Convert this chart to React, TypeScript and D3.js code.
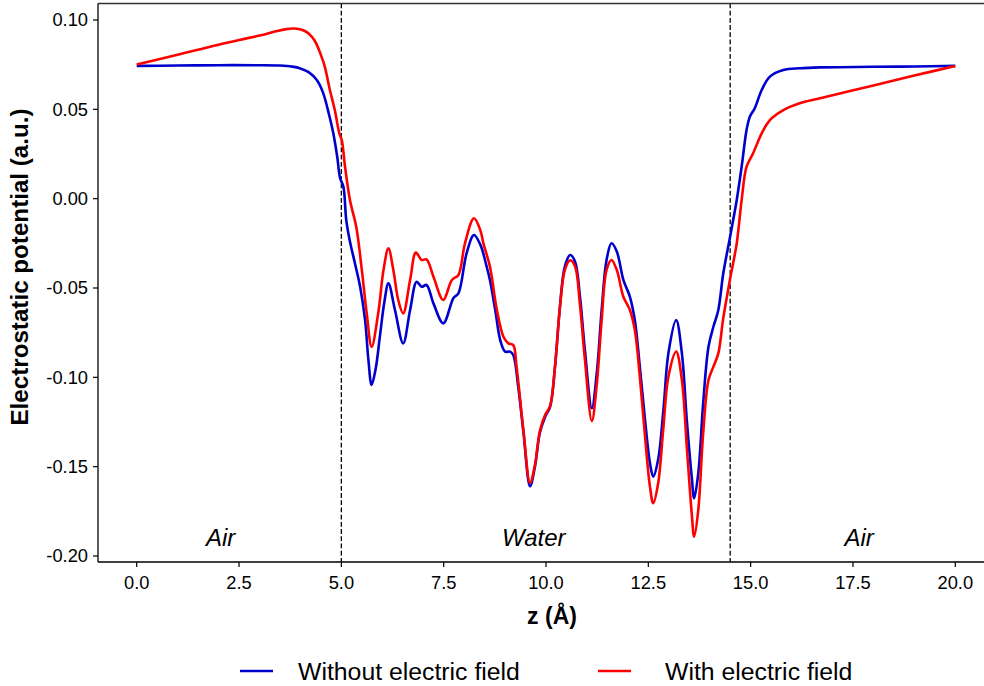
import * as d3 from 'd3';
import { useEffect, useRef } from 'react';

// z positions (Å) and potential (a.u.), without field
const zNoField = [0.0, 1.0, 2.0, 3.0, 3.5, 3.8, 4.0, 4.2, 4.4, 4.55, 4.7, 4.8, 4.9, 4.97, 5.05, 5.12, 5.21, 5.33, 5.46, 5.58, 5.66, 5.74, 5.84, 5.94, 6.05, 6.15, 6.31, 6.51, 6.68, 6.84, 6.96, 7.08, 7.25, 7.49, 7.74, 7.86, 8.06, 8.24, 8.4, 8.55, 8.63, 8.76, 8.88, 9.0, 9.12, 9.2, 9.32, 9.45, 9.61, 9.73, 9.85, 9.98, 10.1, 10.22, 10.34, 10.46, 10.59, 10.71, 10.83, 10.95, 11.12, 11.24, 11.36, 11.48, 11.6, 11.73, 11.89, 12.05, 12.17, 12.3, 12.42, 12.54, 12.62, 12.74, 12.87, 12.99, 13.18, 13.32, 13.44, 13.56, 13.62, 13.72, 13.84, 13.97, 14.09, 14.21, 14.33, 14.5, 14.66, 14.78, 14.9, 14.98, 15.1, 15.27, 15.47, 15.8, 16.2, 16.7, 18.0, 19.0, 20.0];
const vNoField = [0.0743, 0.0745, 0.0747, 0.0747, 0.0745, 0.0739, 0.0729, 0.0708, 0.0664, 0.0595, 0.047, 0.037, 0.0233, 0.0115, 0.0067, -0.012, -0.024, -0.036, -0.0494, -0.068, -0.09, -0.1043, -0.095, -0.0774, -0.058, -0.0474, -0.0623, -0.081, -0.0623, -0.0465, -0.0493, -0.0483, -0.0586, -0.0698, -0.0556, -0.053, -0.0306, -0.0203, -0.026, -0.038, -0.0455, -0.0623, -0.079, -0.0856, -0.0856, -0.0875, -0.105, -0.131, -0.161, -0.15, -0.131, -0.122, -0.1165, -0.094, -0.0605, -0.038, -0.0315, -0.0353, -0.0549, -0.0847, -0.1173, -0.0977, -0.0623, -0.0343, -0.025, -0.0296, -0.0455, -0.0549, -0.068, -0.0959, -0.1239, -0.148, -0.1556, -0.146, -0.118, -0.0866, -0.068, -0.0866, -0.1239, -0.1556, -0.1677, -0.1537, -0.1145, -0.0829, -0.0717, -0.0623, -0.042, -0.021, -0.0007, 0.0179, 0.0384, 0.0459, 0.0506, 0.0608, 0.0683, 0.072, 0.073, 0.0735, 0.0738, 0.074, 0.0743];

// with electric field
const zField = [0.0, 1.0, 2.0, 3.0, 3.4, 3.65, 3.85, 4.05, 4.2, 4.35, 4.5, 4.6, 4.72, 4.84, 4.95, 5.01, 5.09, 5.21, 5.37, 5.5, 5.62, 5.74, 5.9, 6.03, 6.15, 6.27, 6.39, 6.51, 6.68, 6.82, 6.96, 7.08, 7.25, 7.49, 7.7, 7.86, 8.02, 8.24, 8.4, 8.47, 8.63, 8.8, 8.96, 9.08, 9.2, 9.28, 9.45, 9.61, 9.73, 9.85, 9.98, 10.1, 10.22, 10.34, 10.46, 10.59, 10.71, 10.83, 10.95, 11.12, 11.24, 11.36, 11.48, 11.6, 11.73, 11.89, 12.05, 12.17, 12.3, 12.42, 12.54, 12.62, 12.74, 12.87, 12.99, 13.18, 13.32, 13.44, 13.56, 13.62, 13.72, 13.84, 13.97, 14.09, 14.21, 14.33, 14.5, 14.66, 14.78, 14.9, 15.06, 15.27, 15.47, 15.8, 16.2, 16.7, 18.0, 19.0, 20.0];
const vField = [0.0751, 0.0806, 0.0862, 0.0913, 0.0937, 0.0949, 0.0952, 0.0944, 0.0925, 0.0884, 0.0805, 0.0735, 0.0608, 0.0496, 0.0366, 0.0328, 0.0179, -0.0007, -0.0165, -0.0399, -0.0642, -0.0829, -0.0642, -0.0399, -0.0278, -0.0399, -0.0567, -0.0642, -0.0455, -0.0302, -0.0343, -0.034, -0.0437, -0.0567, -0.0455, -0.0427, -0.025, -0.011, -0.018, -0.025, -0.038, -0.0623, -0.0773, -0.081, -0.082, -0.094, -0.13, -0.159, -0.149, -0.13, -0.121, -0.116, -0.094, -0.061, -0.04, -0.0345, -0.038, -0.0595, -0.09, -0.1245, -0.104, -0.068, -0.0399, -0.0343, -0.0399, -0.0549, -0.0623, -0.0735, -0.1015, -0.1332, -0.1612, -0.1705, -0.1593, -0.1276, -0.0997, -0.0856, -0.1015, -0.1388, -0.1761, -0.1892, -0.1743, -0.1313, -0.1015, -0.094, -0.0866, -0.067, -0.0446, -0.025, -0.0007, 0.0179, 0.0254, 0.0366, 0.044, 0.0496, 0.0534, 0.0562, 0.0634, 0.0689, 0.0743];

const xTicks = [0, 2.5, 5, 7.5, 10, 12.5, 15, 17.5, 20];
const yTicks = [0.10, 0.05, 0.0, -0.05, -0.10, -0.15, -0.20];
const interfaces = [5.0, 14.5];
const regions = [{ name: 'Air', z: 2.05 }, { name: 'Water', z: 9.7 }, { name: 'Air', z: 17.65 }];
const seriesNames = ['Without electric field', 'With electric field'];
const colors = ['#0000cd', '#ff0000'];

const App = () => {
    const ref = useRef<SVGSVGElement>(null);

    useEffect(() => {
        const svg = d3.select(ref.current);
        svg.selectAll('*').remove();
        const font = '"Liberation Sans", Arial, Helvetica, sans-serif';

        const x = d3.scaleLinear().domain([0, 20]).range([136.7, 955.3]);
        const y = d3.scaleLinear().domain([-0.20, 0.10]).range([556, 20]);
        const left = 98, right = 994, top = 3.5, bottom = 562;

        const g = svg.append('g');

        // dashed interface lines
        g.selectAll('.iface').data(interfaces).enter().append('line')
            .attr('x1', (d: number) => x(d)).attr('x2', (d: number) => x(d))
            .attr('y1', top).attr('y2', bottom)
            .attr('stroke', '#000').attr('stroke-width', 1.3)
            .attr('stroke-dasharray', '4.8,2.4');

        const line = d3.line<[number, number]>()
            .x(d => x(d[0])).y(d => y(d[1]))
            .curve(d3.curveCatmullRom.alpha(0.5));

        const series = [d3.zip(zNoField, vNoField), d3.zip(zField, vField)];
        series.forEach((s, i) => {
            g.append('path')
                .attr('d', line(s as [number, number][]))
                .attr('fill', 'none')
                .attr('stroke', colors[i])
                .attr('stroke-width', 2.6)
                .attr('stroke-linejoin', 'round');
        });

        // region labels
        g.selectAll('.reg').data(regions).enter().append('text')
            .attr('x', (d: any) => x(d.z)).attr('y', 546)
            .attr('text-anchor', 'middle')
            .style('font-family', font).style('font-style', 'italic')
            .style('font-size', '24px').text((d: any) => d.name);

        // spines
        g.append('line').attr('x1', left).attr('x2', right).attr('y1', top).attr('y2', top)
            .attr('stroke', '#333').attr('stroke-width', 1.3);
        g.append('line').attr('x1', left).attr('x2', left).attr('y1', top).attr('y2', bottom)
            .attr('stroke', '#000').attr('stroke-width', 1.3);
        g.append('line').attr('x1', left).attr('x2', right).attr('y1', bottom).attr('y2', bottom)
            .attr('stroke', '#000').attr('stroke-width', 1.3);

        // x ticks
        const xt = g.selectAll('.xt').data(xTicks).enter().append('g')
            .attr('transform', (d: number) => `translate(${x(d)},${bottom})`);
        xt.append('line').attr('y1', 0).attr('y2', 5).attr('stroke', '#000').attr('stroke-width', 1.2);
        xt.append('text').attr('y', 26.5).attr('text-anchor', 'middle')
            .style('font-family', font).style('font-size', '18.3px')
            .text((d: number) => d.toFixed(1));

        // y ticks
        const yt = g.selectAll('.yt').data(yTicks).enter().append('g')
            .attr('transform', (d: number) => `translate(${left},${y(d)})`);
        yt.append('line').attr('x1', 0).attr('x2', -5).attr('stroke', '#000').attr('stroke-width', 1.2);
        yt.append('text').attr('x', -10).attr('dy', '0.35em').attr('text-anchor', 'end')
            .style('font-family', font).style('font-size', '18.3px')
            .text((d: number) => d.toFixed(2));

        // axis labels
        svg.append('text')
            .attr('transform', `translate(28,267) rotate(-90)`)
            .attr('text-anchor', 'middle')
            .style('font-family', font).style('font-weight', 'bold').style('font-size', '24.2px')
            .text('Electrostatic potential (a.u.)');
        svg.append('text')
            .attr('x', 552).attr('y', 624).attr('text-anchor', 'middle')
            .style('font-family', font).style('font-weight', 'bold').style('font-size', '23px')
            .text('z (Å)');

        // legend
        const legendX = [240, 598];
        const legendTextX = [298, 665];
        seriesNames.forEach((name, i) => {
            svg.append('line')
                .attr('x1', legendX[i]).attr('x2', legendX[i] + 33)
                .attr('y1', 671).attr('y2', 671)
                .attr('stroke', colors[i]).attr('stroke-width', 2.6);
            svg.append('text')
                .attr('x', legendTextX[i]).attr('y', 680)
                .style('font-family', font).style('font-size', '24.8px')
                .text(name);
        });
    }, []);

    return (
        <svg ref={ref} width={984} height={686}
            style={{ position: 'absolute', left: 0, top: 0, background: '#fff' }} />
    );
};

export default App;
